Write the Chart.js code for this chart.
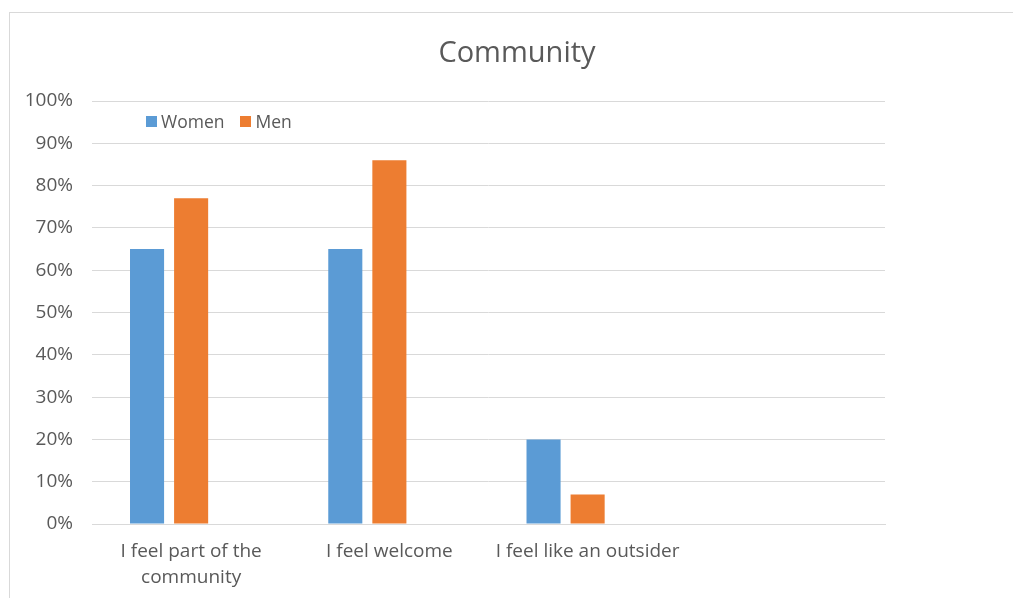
<!DOCTYPE html>
<html>
<head>
<meta charset="utf-8">
<title>Community</title>
<script src="https://cdn.jsdelivr.net/npm/chart.js@4/dist/chart.umd.min.js"></script>
<style>
  html, body { margin: 0; padding: 0; background: #fff; }
  #wrap { position: relative; width: 1013px; height: 598px; overflow: hidden; font-family: "Open Sans", sans-serif; }
  /* frame of the Excel chart object */
  #frame { position: absolute; left: 9px; top: 12px; right: -5px; bottom: -5px; border-left: 1px solid #d9d9d9; border-top: 1px solid #d9d9d9; }
  #title { position: absolute; left: 0; width: 1034px; top: 31px; text-align: center; font-size: 29px; color: #595959; }
  #legend { position: absolute; left: 146px; top: 109px; font-size: 17.5px; color: #595959; display: flex; }
  .item { display: flex; align-items: center; margin-right: 16px; }
  .sw { width: 11px; height: 11px; margin-right: 4px; }
  canvas { position: absolute; left: 0; top: 0; }
</style>
</head>
<body>
<div id="wrap">
  <div id="frame"></div>
  <canvas id="chart" width="1013" height="598"></canvas>
  <div id="title">Community</div>
  <div id="legend"></div>
</div>
<script>
// ---- data ----
const categories = [['I feel part of the', 'community'], 'I feel welcome', 'I feel like an outsider', ''];
const women = [65, 65, 20, null];
const men = [77, 86, 7, null];
const spare = [null, null, null, null]; // empty third series, keeps the bar slots
const yTicks = [0, 10, 20, 30, 40, 50, 60, 70, 80, 90, 100];

const seriesNames = ['Women', 'Men'];
const seriesColors = ['#5B9BD5', '#ED7D31'];

// ---- legend (html) ----
const legendEl = document.getElementById('legend');
seriesNames.forEach((name, i) => {
  legendEl.innerHTML += `<div class="item"><span class="sw" style="background:${seriesColors[i]}"></span>${name}</div>`;
});

const tickFont = { family: '"Open Sans", sans-serif', size: 19 };

new Chart(document.getElementById('chart'), {
  type: 'bar',
  data: {
    labels: categories,
    datasets: [
      { label: seriesNames[0], data: women, backgroundColor: seriesColors[0] },
      { label: seriesNames[1], data: men, backgroundColor: seriesColors[1] },
      { label: '', data: spare, backgroundColor: 'transparent' },
    ],
  },
  options: {
    responsive: false,
    animation: false,
    layout: { padding: { left: 10, right: 128, top: 101, bottom: 0 } },
    datasets: { bar: { categoryPercentage: 0.667, barPercentage: 0.773 } },
    plugins: {
      legend: { display: false },
      title: { display: false },
      tooltip: { enabled: false },
    },
    scales: {
      x: {
        grid: { display: false, drawTicks: false },
        border: { color: '#d9d9d9', width: 1 },
        ticks: { color: '#595959', font: { ...tickFont, lineHeight: 1.37 }, padding: 15, maxRotation: 0, autoSkip: false },
        afterFit: (s) => { s.height = 74; },
      },
      y: {
        min: 0,
        max: 100,
        afterBuildTicks: (s) => { s.ticks = yTicks.map((v) => ({ value: v })); },
        grid: { color: '#d9d9d9', lineWidth: 1, drawTicks: false },
        border: { display: false },
        ticks: { color: '#595959', font: tickFont, padding: 19, callback: (v) => v + '%' },
        afterFit: (s) => { s.width = 82; },
      },
    },
  },
});
</script>
</body>
</html>
